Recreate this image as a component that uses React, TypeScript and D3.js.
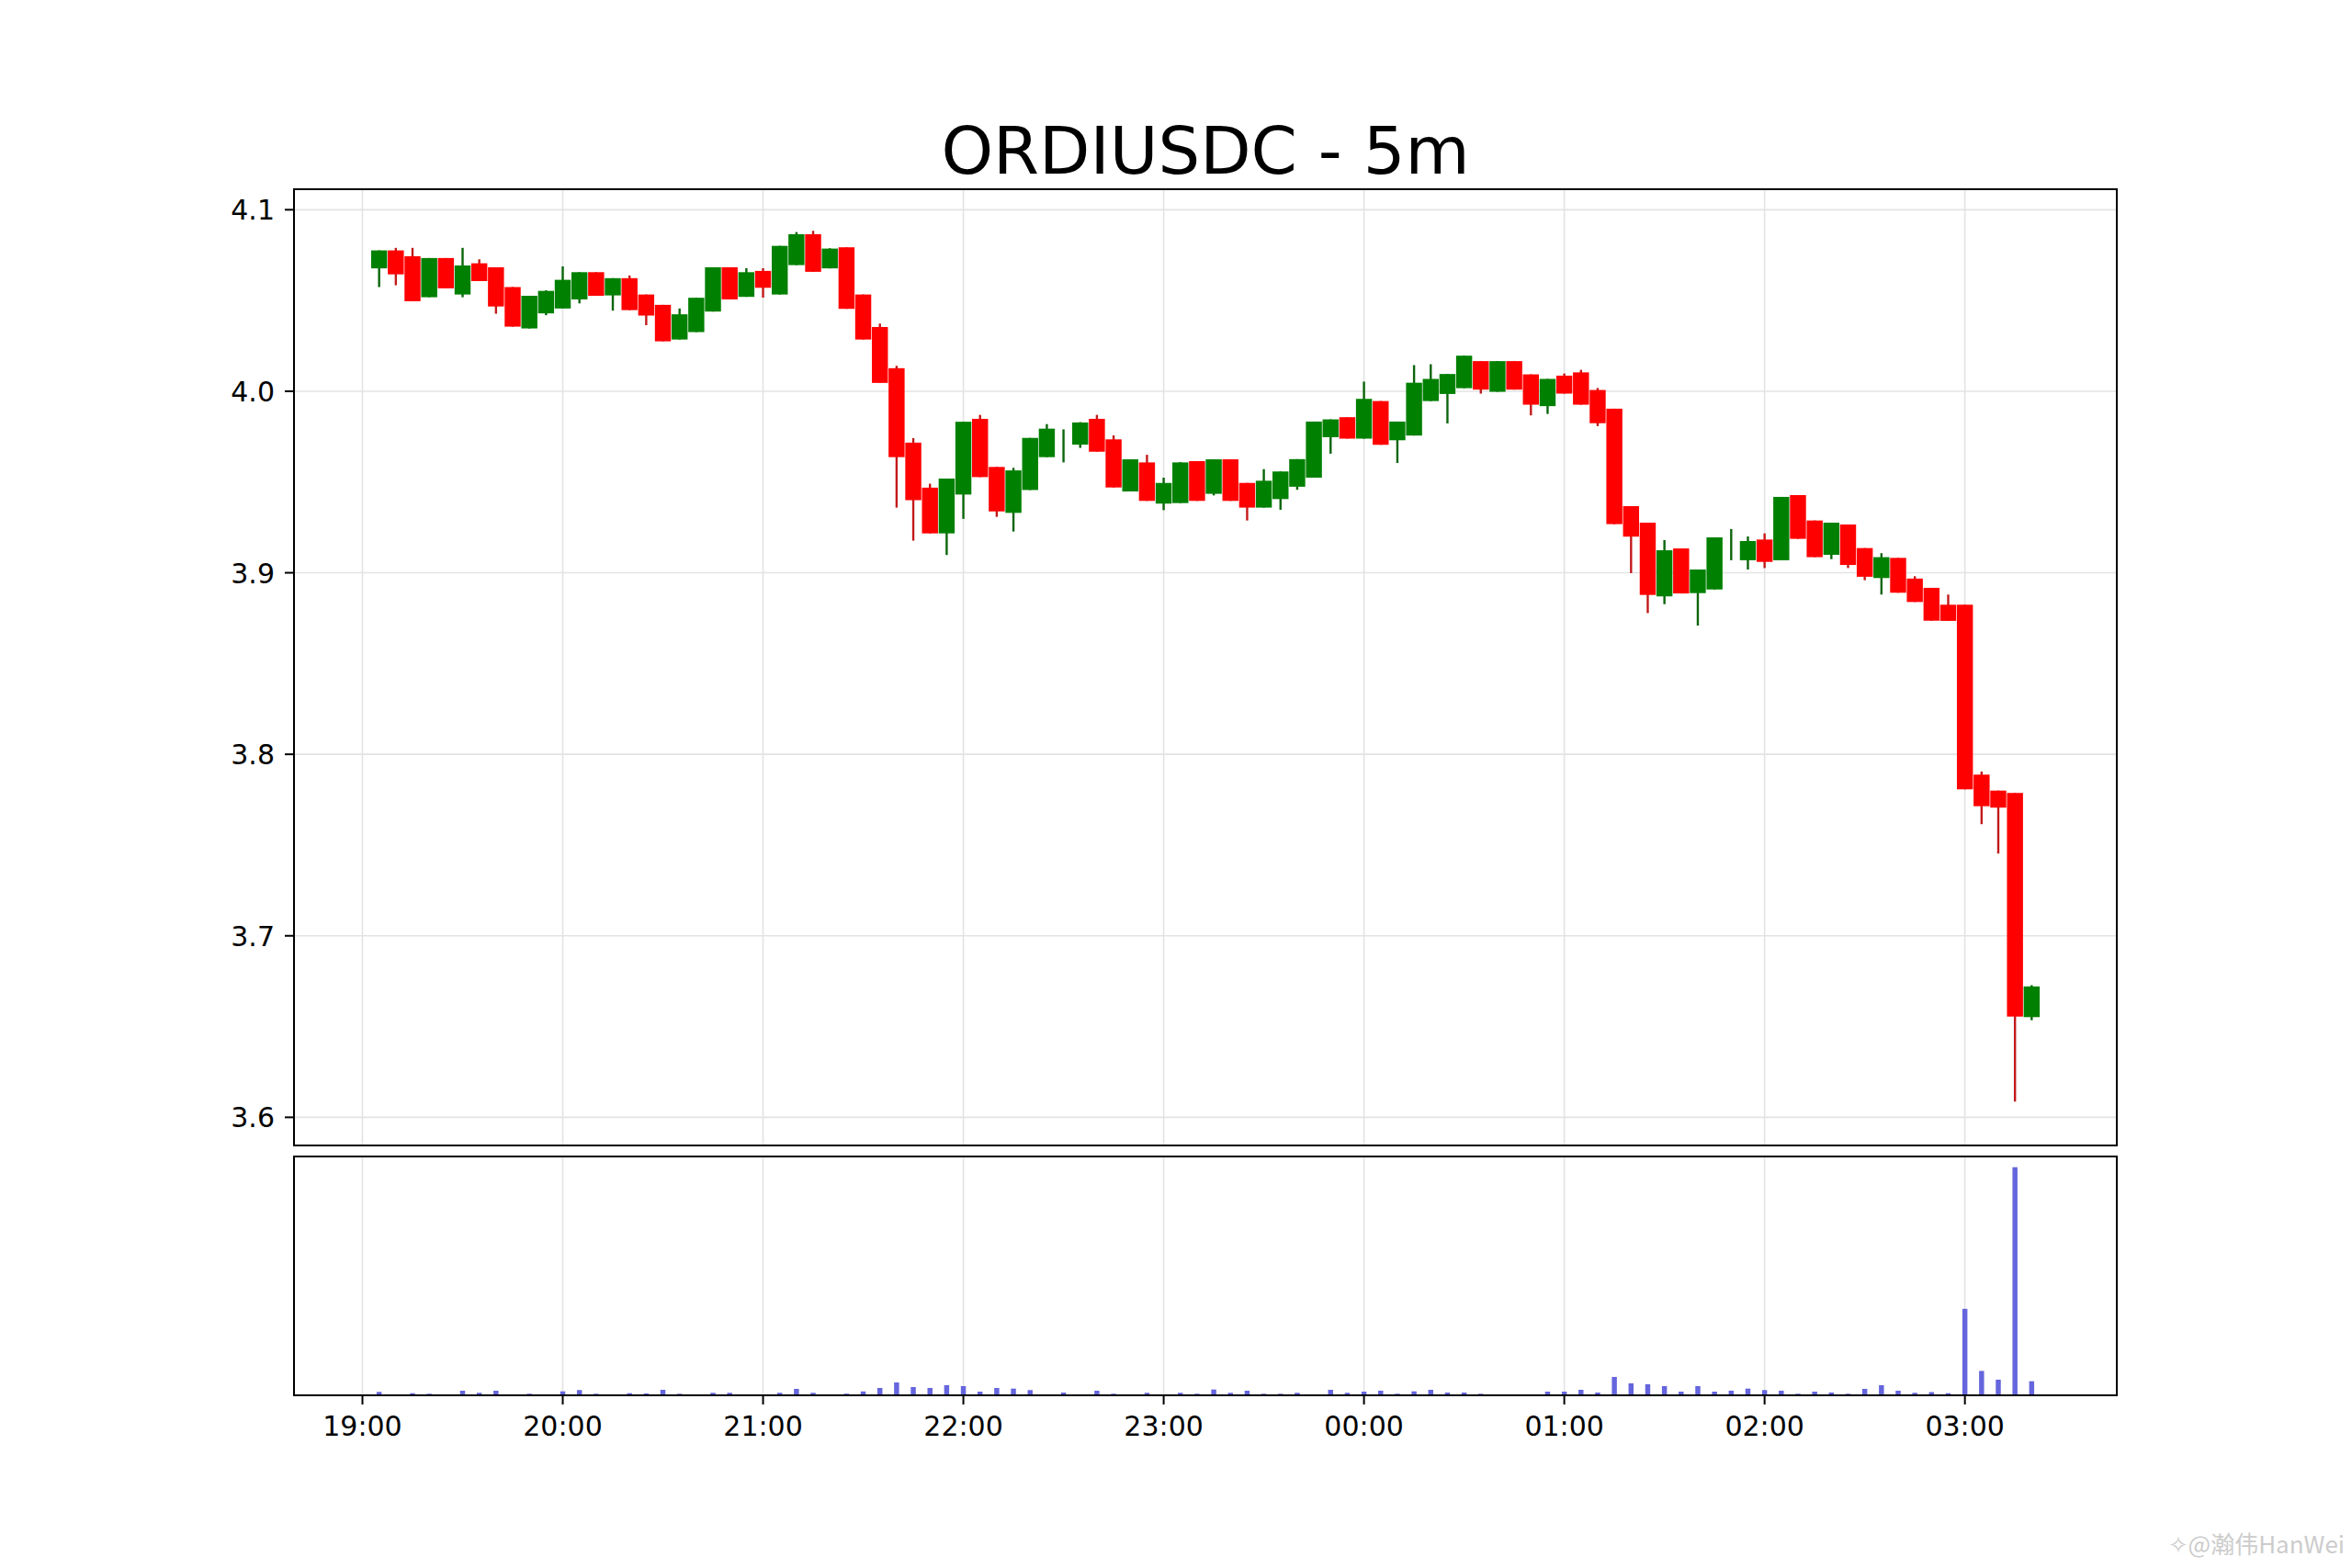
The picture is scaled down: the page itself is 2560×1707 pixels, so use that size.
import { scaleLinear, scaleUtc, utcHour, utcFormat } from "d3";

// 5m candles, 19:05 -> 03:20
const firstCandle = Date.UTC(2024, 0, 1, 19, 5);
const intervalMs = 5 * 60 * 1000;

const opens = [
  4.0677, 4.0776, 4.0744, 4.0518, 4.0734, 4.0533, 4.0705, 4.0683, 4.0574, 4.0346,
  4.0429, 4.0456, 4.0506, 4.0656, 4.0528, 4.0623, 4.0533, 4.0476, 4.0285, 4.0326,
  4.0439, 4.0683, 4.052, 4.0663, 4.0533, 4.0695, 4.0865, 4.0677, 4.0793, 4.0533,
  4.0354, 4.0127, 3.9717, 3.9469, 3.9217, 3.9431, 3.9848, 3.9583, 3.933, 3.9456,
  3.9637, 3.9706, 3.9706, 3.9848, 3.9735, 3.9448, 3.9608, 3.9381, 3.9384, 3.9615,
  3.9435, 3.9625, 3.9495, 3.9359, 3.9406, 3.9474, 3.9524, 3.9747, 3.9857, 3.9739,
  3.9946, 3.973, 3.9756, 3.9946, 3.9985, 4.0017, 4.0166, 3.9997, 4.0166, 4.0093,
  3.9918, 4.0086, 4.0104, 4.0007, 3.9904, 3.9367, 3.9276, 3.887, 3.9134, 3.8888,
  3.8908, 3.915, 3.9069, 3.9183, 3.9069, 3.9428, 3.9288, 3.9099, 3.9266, 3.9136,
  3.8971, 3.9082, 3.8968, 3.8917, 3.8824, 3.8824, 3.7888, 3.78, 3.7787, 3.6552,
];

const highs = [
  4.0776, 4.079, 4.079, 4.0734, 4.0734, 4.079, 4.0727, 4.0683, 4.0574, 4.0526,
  4.0556, 4.0688, 4.0656, 4.0656, 4.0623, 4.0638, 4.0533, 4.0476, 4.0456, 4.0515,
  4.0683, 4.0683, 4.0678, 4.0678, 4.0801, 4.0877, 4.0884, 4.0788, 4.0793, 4.0533,
  4.0373, 4.014, 3.9742, 3.9491, 3.9519, 3.9832, 3.987, 3.9583, 3.9578, 3.9743,
  3.9819, 3.979, 3.983, 3.987, 3.9757, 3.9625, 3.965, 3.9524, 3.961, 3.9615,
  3.9625, 3.9625, 3.9495, 3.9571, 3.9558, 3.9626, 3.9833, 3.9845, 3.9857, 4.0053,
  3.9946, 3.9833, 4.0144, 4.0149, 4.0095, 4.0196, 4.0166, 4.0166, 4.0166, 4.0093,
  4.0068, 4.0098, 4.0118, 4.0018, 3.9904, 3.9367, 3.9276, 3.918, 3.9134, 3.9018,
  3.9195, 3.9241, 3.92, 3.9217, 3.9418, 3.9428, 3.9288, 3.9276, 3.9266, 3.9136,
  3.9108, 3.9082, 3.8981, 3.8917, 3.888, 3.8824, 3.7905, 3.78, 3.7787, 3.6728,
];

const lows = [
  4.0574, 4.0584, 4.0496, 4.0518, 4.0567, 4.0518, 4.0607, 4.0427, 4.0356, 4.0346,
  4.0419, 4.0456, 4.0484, 4.0526, 4.0444, 4.0447, 4.0364, 4.0275, 4.0285, 4.0326,
  4.0439, 4.0506, 4.052, 4.0516, 4.0533, 4.0695, 4.0658, 4.0677, 4.0454, 4.0285,
  4.0046, 3.9359, 3.9177, 3.9217, 3.9098, 3.9297, 3.9527, 3.9308, 3.9227, 3.9456,
  3.9637, 3.9608, 3.9688, 3.9667, 3.947, 3.9448, 3.9396, 3.9345, 3.9384, 3.9396,
  3.9426, 3.9396, 3.9288, 3.9359, 3.9347, 3.9457, 3.9524, 3.9656, 3.9739, 3.9739,
  3.9705, 3.9605, 3.9756, 3.9946, 3.9823, 4.0017, 3.9987, 3.9997, 4.0009, 3.9867,
  3.9875, 3.9987, 3.9926, 3.9808, 3.9268, 3.8998, 3.8778, 3.8827, 3.8886, 3.8709,
  3.8908, 3.9069, 3.9018, 3.9026, 3.9069, 3.9187, 3.9086, 3.9075, 3.9026, 3.8959,
  3.888, 3.889, 3.8839, 3.8736, 3.8735, 3.7807, 3.7615, 3.7453, 3.6087, 3.6535,
];

const closes = [
  4.0776, 4.0644, 4.0496, 4.0734, 4.0567, 4.0693, 4.0607, 4.0467, 4.0356, 4.0526,
  4.0553, 4.0614, 4.0656, 4.0526, 4.0623, 4.0447, 4.0417, 4.0275, 4.0424, 4.0515,
  4.0683, 4.0506, 4.0656, 4.057, 4.0801, 4.0865, 4.0658, 4.0786, 4.0454, 4.0285,
  4.0046, 3.9637, 3.94, 3.9217, 3.9519, 3.9832, 3.9527, 3.9338, 3.9564, 3.9743,
  3.9794, 3.9706, 3.9828, 3.9667, 3.947, 3.9625, 3.9396, 3.9495, 3.9608, 3.9396,
  3.9625, 3.9396, 3.9359, 3.9507, 3.9558, 3.9626, 3.9833, 3.9845, 3.9739, 3.9958,
  3.9705, 3.9833, 4.0047, 4.0068, 4.0095, 4.0196, 4.0009, 4.0166, 4.0009, 3.9926,
  4.0068, 3.9987, 3.9926, 3.9824, 3.9268, 3.9199, 3.8878, 3.9124, 3.8886, 3.9018,
  3.9195, 3.915, 3.9175, 3.906, 3.9418, 3.9187, 3.9086, 3.9276, 3.9043, 3.8978,
  3.9086, 3.889, 3.8839, 3.8736, 3.8735, 3.7807, 3.7714, 3.7706, 3.6555, 3.6721,
];

const volumes = [
  3.7, 0.7, 2.3, 1.7, 0.7, 5, 2.7, 5, 0.5, 1.7,
  0.5, 4.3, 5.7, 1.7, 0.5, 2.3, 2, 6, 1.7, 0.5,
  2.7, 2.7, 0.5, 1, 2.7, 7, 2.7, 0.7, 1.8, 4.2,
  8, 14, 9, 8, 11, 10, 4, 8, 7.3, 5.7,
  1, 3, 0.7, 5, 1.7, 0.7, 2.7, 0.5, 2.7, 1.7,
  6.3, 2.7, 5, 1.7, 1.7, 2.7, 0.7, 6, 2.7, 4,
  5, 1.7, 4.3, 6, 3, 3, 1.7, 0.7, 0.7, 0.7,
  4, 4, 6, 3, 20, 13, 12, 10, 4, 10,
  4, 5, 7.3, 5.7, 5, 1.7, 4, 3, 1.7, 7,
  11, 5, 2.7, 3.5, 2.3, 94, 26.5, 17, 248, 15.3,
];

const priceTicks = [4.1, 4.0, 3.9, 3.8, 3.7, 3.6];
const title = "ORDIUSDC - 5m";

const W = 2560;
const H = 1707;
const left = 320;
const right = 2304;
const mainTop = 206;
const mainBottom = 1247;
const volTop = 1259;
const volBottom = 1519;

const UP = "#008000";
const DOWN = "#ff0000";
const UP_WICK = "#0b650b";
const DOWN_WICK = "#c21a1a";
const GRID = "#e3e3e3";
const FONT = "'DejaVu Sans', sans-serif";

export default function App() {
  const candles = opens.map((o, i) => ({
    t: new Date(firstCandle + i * intervalMs),
    o,
    h: highs[i],
    l: lows[i],
    c: closes[i],
    v: volumes[i],
  }));

  const first = candles[0].t.getTime();
  const last = candles[candles.length - 1].t.getTime();
  const pad = 5.1 * intervalMs;

  const x = scaleUtc()
    .domain([new Date(first - pad), new Date(last + pad)])
    .range([left, right]);
  const step = x(new Date(first + intervalMs)) - x(new Date(first));
  const bodyW = step * 0.96;
  const volW = step * 0.3;

  const y = scaleLinear().domain([3.5845, 4.1113]).range([mainBottom, mainTop]);

  const maxVol = Math.max(...volumes);
  const yv = scaleLinear().domain([0, maxVol * 1.047]).range([volBottom, volTop]);

  const hourTicks = x.ticks(utcHour.every(1));
  const fmt = utcFormat("%H:%M");

  return (
    <div style={{ width: W, height: H, background: "#fff" }}>
      <style>{`body{margin:0}`}</style>
      <svg width={W} height={H} style={{ display: "block" }}>
        <rect width={W} height={H} fill="#fff" />

        <text
          x={(left + right) / 2}
          y={189}
          textAnchor="middle"
          fontFamily={FONT}
          fontSize={72}
          fill="#000"
        >
          {title}
        </text>

        {/* grid */}
        {hourTicks.map((t) => (
          <g key={t.getTime()}>
            <line x1={x(t)} x2={x(t)} y1={mainTop} y2={mainBottom} stroke={GRID} strokeWidth={1.6} />
            <line x1={x(t)} x2={x(t)} y1={volTop} y2={volBottom} stroke={GRID} strokeWidth={1.6} />
          </g>
        ))}
        {priceTicks.map((p) => (
          <line key={p} x1={left} x2={right} y1={y(p)} y2={y(p)} stroke={GRID} strokeWidth={1.6} />
        ))}

        {/* candles */}
        {candles.map((d) => {
          const cx = x(d.t);
          const up = d.c >= d.o;
          const top = y(Math.max(d.o, d.c));
          const bot = y(Math.min(d.o, d.c));
          return (
            <g key={d.t.getTime()}>
              <line
                x1={cx}
                x2={cx}
                y1={y(d.h)}
                y2={y(d.l)}
                stroke={up ? UP_WICK : DOWN_WICK}
                strokeWidth={2.4}
              />
              {bot - top > 0 ? (
                <rect
                  x={cx - bodyW / 2}
                  y={top}
                  width={bodyW}
                  height={bot - top}
                  fill={up ? UP : DOWN}
                />
              ) : null}
            </g>
          );
        })}

        {/* volume */}
        {candles.map((d) => (
          <rect
            key={d.t.getTime()}
            x={x(d.t) - volW / 2}
            y={yv(d.v)}
            width={volW}
            height={volBottom - yv(d.v)}
            fill="#6565dd"
          />
        ))}

        {/* frames */}
        <rect x={left} y={mainTop} width={right - left} height={mainBottom - mainTop} fill="none" stroke="#000" strokeWidth={2} />
        <rect x={left} y={volTop} width={right - left} height={volBottom - volTop} fill="none" stroke="#000" strokeWidth={2} />

        {/* y axis */}
        {priceTicks.map((p) => (
          <g key={p}>
            <line x1={left - 10} x2={left} y1={y(p)} y2={y(p)} stroke="#000" strokeWidth={2} />
            <text
              x={left - 21}
              y={y(p) + 11}
              textAnchor="end"
              fontFamily={FONT}
              fontSize={30}
              fill="#000"
            >
              {p.toFixed(1)}
            </text>
          </g>
        ))}

        {/* x axis */}
        {hourTicks.map((t) => (
          <g key={t.getTime()}>
            <line x1={x(t)} x2={x(t)} y1={volBottom} y2={volBottom + 10} stroke="#000" strokeWidth={2} />
            <text
              x={x(t)}
              y={volBottom + 44}
              textAnchor="middle"
              fontFamily={FONT}
              fontSize={30}
              fill="#000"
            >
              {fmt(t)}
            </text>
          </g>
        ))}

        <text
          x={2552}
          y={1691}
          textAnchor="end"
          fontFamily="'Noto Sans CJK SC', 'Noto Sans', sans-serif"
          fontSize={26}
          fill="#cccccc"
        >
          ✧@瀚伟HanWei
        </text>
      </svg>
    </div>
  );
}
